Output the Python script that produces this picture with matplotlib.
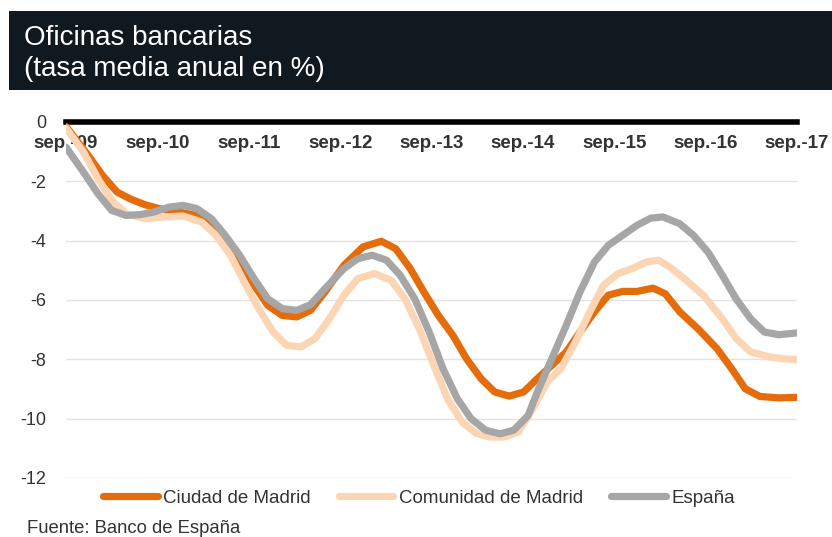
import matplotlib
matplotlib.use('Agg')
import matplotlib.pyplot as plt
from matplotlib.patches import Rectangle

plt.rcParams['font.family'] = ['Liberation Sans', 'DejaVu Sans']

# meses desde sep.-09
meses_ciudad = [0, 2.9, 4.8, 6.7, 8.5, 10.4, 12.25, 14.7, 17.2, 19.1, 20.9, 22.8, 24.7, 26.5, 28.4,
                30.3, 32.1, 34.0, 36.5, 39.0, 41.4, 43.3, 45.2, 47.0, 48.9, 50.8, 52.6, 54.5,
                56.3, 58.2, 60.1, 61.9, 63.8, 65.7, 67.5, 69.4, 71.2, 73.1, 75.0, 77.1, 78.7,
                80.6, 83.0, 85.5, 87.4, 89.2, 91.1, 93.6, 96]
ciudad = [-0.15, -1.12, -1.8, -2.36, -2.6, -2.79, -2.92, -3.03, -3.15, -3.43, -4.04, -4.72, -5.5,
          -6.18, -6.52, -6.57, -6.35, -5.73, -4.83, -4.21, -4.02, -4.27, -4.94, -5.73, -6.52,
          -7.19, -7.98, -8.65, -9.1, -9.24, -9.1, -8.65, -8.2, -7.75, -7.08, -6.4, -5.84, -5.71,
          -5.71, -5.6, -5.79, -6.4, -6.97, -7.64, -8.31, -8.99, -9.25, -9.3, -9.28]

meses_comunidad = [0, 2.3, 4.2, 6.0, 7.9, 10.4, 12.9, 15.4, 17.8, 19.7, 21.6, 23.4, 25.3, 27.2,
                   29.0, 30.9, 32.7, 34.6, 36.5, 38.3, 40.5, 42.7, 44.5, 46.4, 48.3, 50.1, 52.0,
                   53.9, 55.7, 57.6, 59.4, 61.3, 63.2, 65.0, 66.9, 68.8, 70.6, 72.5, 74.4, 76.2,
                   77.8, 79.3, 81.2, 83.7, 86.2, 88.0, 89.9, 92.4, 94.2, 96]
comunidad = [-0.2, -1.01, -1.91, -2.64, -3.09, -3.26, -3.2, -3.17, -3.37, -3.82, -4.49, -5.39,
             -6.29, -7.08, -7.53, -7.58, -7.3, -6.63, -5.84, -5.28, -5.11, -5.34, -5.96, -6.97,
             -8.2, -9.33, -10.11, -10.5, -10.62, -10.62, -10.45, -9.66, -8.76, -8.31, -7.42,
             -6.4, -5.5, -5.11, -4.94, -4.72, -4.66, -4.89, -5.28, -5.84, -6.63, -7.3, -7.75,
             -7.92, -7.98, -8.01]

meses_espana = [0, 2.3, 4.2, 6.0, 7.9, 9.8, 11.6, 13.5, 15.4, 17.2, 19.1, 20.9, 22.8, 24.7, 26.5,
                28.4, 30.3, 32.1, 34.0, 36.5, 38.3, 40.2, 42.1, 43.9, 45.8, 47.7, 49.5, 51.4,
                53.2, 55.1, 57.0, 58.8, 60.7, 61.9, 63.8, 65.7, 67.5, 69.4, 71.2, 73.1, 75.0,
                76.8, 78.4, 80.6, 82.4, 84.3, 86.2, 88.0, 89.9, 91.7, 93.6, 96]
espana = [-0.85, -1.69, -2.42, -2.98, -3.15, -3.12, -3.03, -2.87, -2.81, -2.92, -3.26, -3.82,
          -4.49, -5.28, -5.96, -6.29, -6.35, -6.16, -5.62, -4.94, -4.61, -4.49, -4.66, -5.17,
          -5.96, -7.08, -8.31, -9.33, -10.0, -10.39, -10.51, -10.39, -9.89, -9.1, -7.98, -6.85,
          -5.73, -4.72, -4.16, -3.82, -3.48, -3.24, -3.2, -3.43, -3.82, -4.38, -5.17, -5.96,
          -6.63, -7.08, -7.17, -7.11]

etiquetas_x = ['sep.-09', 'sep.-10', 'sep.-11', 'sep.-12', 'sep.-13', 'sep.-14', 'sep.-15',
               'sep.-16', 'sep.-17']
ticks_y = [0, -2, -4, -6, -8, -10, -12]

W, H = 832, 537
fig = plt.figure(figsize=(W / 100, H / 100), dpi=100)
ax = fig.add_axes([66 / W, 1 - 478 / H, (797 - 66) / W, (478 - 122) / H])

# cabecera oscura
fig.patches.append(Rectangle((9 / W, 1 - 90 / H), 1 - 9 / W, 79 / H, transform=fig.transFigure,
                             facecolor='#101820', edgecolor='none', zorder=0))
fig.text(24 / W, 1 - 45 / H, 'Oficinas bancarias', color='white', fontsize=20, va='baseline')
fig.text(24 / W, 1 - 76 / H, '(tasa media anual en %)', color='white', fontsize=20, va='baseline')

estilo = dict(lw=5.2, solid_capstyle='round', solid_joinstyle='round')
ax.plot(meses_ciudad, ciudad, color='#E46C0A', label='Ciudad de Madrid', **estilo)
ax.plot(meses_comunidad, comunidad, color='#FCD5B5', label='Comunidad de Madrid', **estilo)
ax.plot(meses_espana, espana, color='#A6A6A6', label='España', **estilo)

ax.set_xlim(0, 96)
ax.set_ylim(-12, 0)
ax.set_yticks(ticks_y)
ax.set_yticklabels([str(v) for v in ticks_y])
ax.set_xticks(range(0, 97, 12))
ax.set_xticklabels(etiquetas_x)
ax.grid(axis='y', color='#e3e3e3', lw=1)
ax.set_axisbelow(True)

for s in ['top', 'right', 'left']:
    ax.spines[s].set_visible(False)
ax.spines['bottom'].set_position(('data', 0))
ax.spines['bottom'].set_linewidth(4)
ax.spines['bottom'].set_color('black')
ax.spines['bottom'].set_zorder(1)
ax.tick_params(axis='x', length=0, pad=9, labelsize=13.5, labelcolor='#333333')
ax.tick_params(axis='y', length=0, pad=14, labelsize=13, labelcolor='#333333')
for t in ax.get_xticklabels():
    t.set_fontweight('bold')

fig.legend(loc='center', bbox_to_anchor=(419 / W, 1 - 498 / H), ncol=3, frameon=False,
           fontsize=13.5, handlelength=2.9, handletextpad=0.3, columnspacing=1.5,
           labelcolor='#333333')

fig.text(27 / W, 1 - 533 / H, 'Fuente: Banco de España', color='#333333', fontsize=13.3,
         va='baseline')

fig.savefig('out.png', dpi=100)
